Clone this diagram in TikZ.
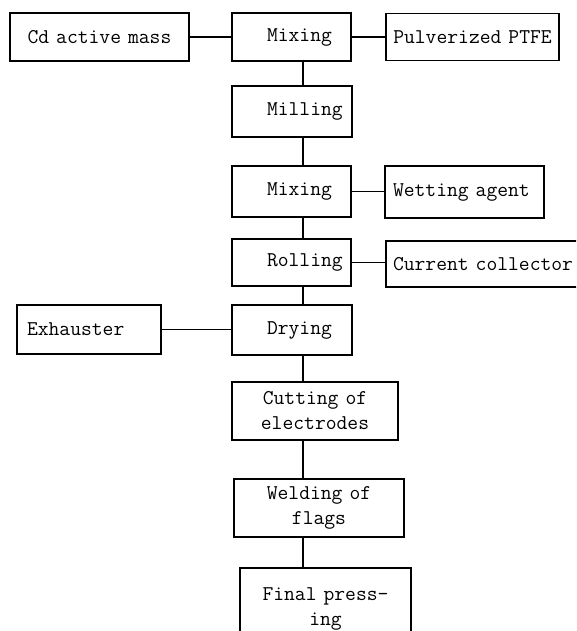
\documentclass[tikz,border=0pt]{standalone}

\begin{document}
\begin{tikzpicture}[x=1pt, y=-1pt, line width=1.1pt,
    stage/.style={draw, inner sep=0pt, font=\fontsize{21}{25}\selectfont\ttfamily},
    pad/.style={align=left, execute at begin node={\hspace*{#1}}}]
    \clip (0,0) rectangle (576,631);
    % top row
    \node[stage, text width=179pt, align=center, minimum height=48pt] (cd) at (99.5,37) {Cd active mass};
    \node[stage, text width=119pt, pad=35pt, minimum height=48pt] (mixA) at (291.5,37) {Mixing};
    \node[stage, text width=173pt, align=center, minimum height=47pt] (ptfe) at (472.5,37) {Pulverized PTFE};
    % main column
    \node[stage, text width=120pt, pad=35pt, minimum height=51pt] (mill) at (292,111.5) {Milling};
    \node[stage, text width=119pt, pad=35pt, minimum height=51pt] (mixB) at (291.5,191.5) {Mixing};
    \node[stage, text width=159pt, pad=8pt, minimum height=52pt] (wet) at (464.5,192) {Wetting agent};
    \node[stage, text width=119pt, pad=35pt, minimum height=47pt] (roll) at (291.5,262.5) {Rolling};
    \node[stage, text width=196pt, pad=7pt, minimum height=46pt] (coll) at (484,264) {Current collector};
    \node[stage, text width=144pt, pad=10pt, minimum height=49pt] (exh) at (89,329.5) {Exhauster};
    \node[stage, text width=120pt, pad=35pt, minimum height=50pt] (dry) at (292,330) {Drying};
    \node[stage, text width=166pt, align=center, minimum height=58pt] (cut) at (315,411) {Cutting of\\electrodes};
    \node[stage, text width=170pt, align=center, minimum height=58pt] (weld) at (319,508) {Welding of\\flags};
    \node[stage, text width=171pt, align=center, minimum height=82pt] (press) at (325.5,609) {Final press-\\ing};
    % connectors
    \coordinate (spine) at (303,0);
    \foreach \a/\b in {mixA/mill, mill/mixB, mixB/roll, roll/dry, dry/cut, cut/weld, weld/press}
        \draw (\a.south -| spine) -- (\b.north -| spine);
    \foreach \a/\b in {cd/mixA, mixA/ptfe, mixB/wet, roll/coll, exh/dry}
        \draw (\a.east) -- (\a.east -| \b.west);
\end{tikzpicture}
\end{document}
